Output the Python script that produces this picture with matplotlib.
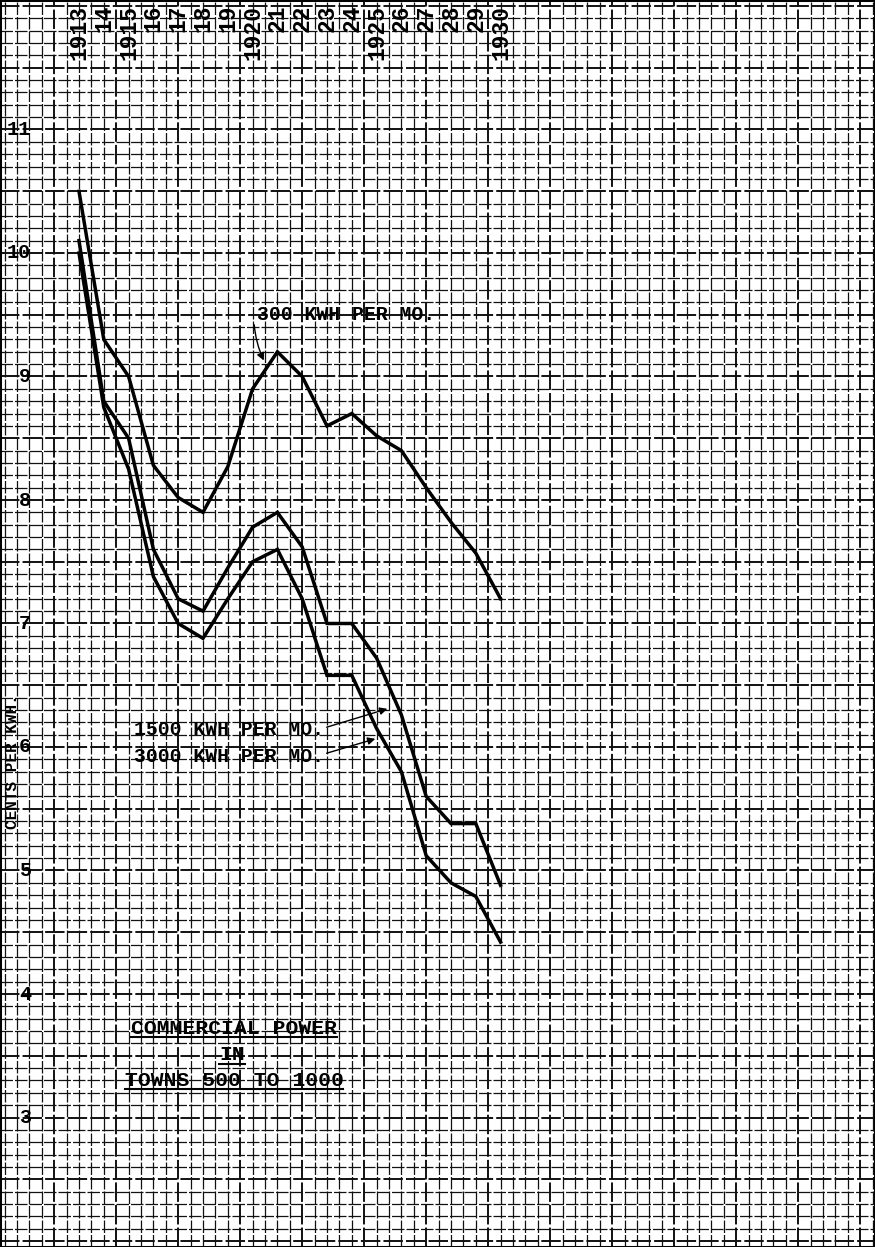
import numpy as np
import matplotlib
matplotlib.use("Agg")
import matplotlib.pyplot as plt
from matplotlib.lines import Line2D

#data (cents per kwh)
years      = list(range(1913, 1931))
kwh300     = [10.5, 9.3, 9.0, 8.28, 8.02, 7.9, 8.27, 8.9, 9.2, 9.0, 8.6, 8.7, 8.52, 8.4, 8.1, 7.82, 7.57, 7.2]
kwh1500    = [10.1, 8.8, 8.5, 7.6, 7.2, 7.1, 7.45, 7.78, 7.9, 7.62, 7.0, 7.0, 6.72, 6.26, 5.6, 5.38, 5.38, 4.88]
kwh3000    = [10.0, 8.75, 8.25, 7.38, 7.0, 6.88, 7.2, 7.5, 7.6, 7.2, 6.58, 6.58, 6.15, 5.8, 5.12, 4.9, 4.79, 4.42]
year_lbls  = ["1913", "14", "1915", "16", "17", "18", "19", "1920", "21", "22",
              "23", "24", "1925", "26", "27", "28", "29", "1930"]
yticks     = [3, 4, 5, 6, 7, 8, 9, 10, 11]

FONT = "Liberation Mono"
W, H = 875, 1247
PX_YEAR, PX_UNIT = 24.8, 123.5

#creation of the figure, axes fill whole page like graph paper
fig = plt.figure(figsize=(W / 100, H / 100), dpi=100)
ax  = fig.add_axes([0, 0, 1, 1])
ax.set_xlim(1913 - 79 / PX_YEAR, 1913 + (W - 79) / PX_YEAR)
ax.set_ylim(10 - (H - 253) / PX_UNIT, 10 + 253 / PX_UNIT)
ax.set_xticks([]); ax.set_yticks([])
for s in ax.spines.values():
    s.set_linewidth(2.2)

#graph paper grid
x0, x1 = ax.get_xlim()
y0, y1 = ax.get_ylim()
for i, gx in enumerate(np.arange(1909.5, x1, 0.5)):
    ax.axvline(gx, color="#111111", lw=1.4 if i % 5 == 0 else 0.9, ls=(0, (10, 1.6)), zorder=1)
for i, gy in enumerate(np.arange(2.0, y1, 0.1)):
    ax.axhline(gy, color="#111111", lw=1.4 if i % 5 == 0 else 0.9, ls=(0, (10, 1.6)), zorder=1)

#curves
for series in (kwh300, kwh1500, kwh3000):
    ax.plot(years, series, color="black", lw=2.5, solid_joinstyle="miter", zorder=3)

#year labels along the top
for yr, lab in zip(years, year_lbls):
    ax.text(yr, 1 - 5 / H, lab, rotation=90, ha="center", va="top",
            transform=ax.get_xaxis_transform(), family=FONT, fontsize=16.5,
            fontweight="bold", zorder=4)

#value labels on the left
for v in yticks:
    ax.text(31 / W, v, str(v), ha="right", va="center", transform=ax.get_yaxis_transform(),
            family=FONT, fontsize=14.5, fontweight="bold", zorder=4)
ax.text(13 / W, 5.88, "CENTS PER KWH.", rotation=90, ha="center", va="center",
        transform=ax.get_yaxis_transform(), family=FONT, fontsize=11.5, fontweight="bold",
        zorder=4)

def px(x, y):
    """pixel position -> data coords"""
    return (1913 + (x - 79) / PX_YEAR, 10 - (y - 253) / PX_UNIT)

txt = dict(family=FONT, fontsize=14.2, fontweight="bold", va="center", zorder=4)
ax.text(*px(257, 315), "300 KWH PER MO.", ha="left", **txt)
ax.text(*px(134, 730), "1500 KWH PER MO.", ha="left", **txt)
ax.text(*px(134, 757), "3000 KWH PER MO.", ha="left", **txt)

arrow = dict(arrowstyle="-|>", lw=1.0, color="black", mutation_scale=11)
ax.annotate("", xy=px(265, 363), xytext=px(254, 322),
            arrowprops=dict(connectionstyle="arc3,rad=0.1", **arrow), zorder=5)
ax.annotate("", xy=px(390, 708), xytext=px(324, 728),
            arrowprops=dict(connectionstyle="arc3,rad=0.0", **arrow), zorder=5)
ax.annotate("", xy=px(378, 738), xytext=px(324, 754),
            arrowprops=dict(connectionstyle="arc3,rad=0.0", **arrow), zorder=5)

#title block, underlined
tt = dict(txt, fontsize=15.4)
title = [ax.text(*px(234, 1028), "COMMERCIAL POWER", ha="center", **tt),
         ax.text(*px(232, 1055), "IN", ha="center", **tt),
         ax.text(*px(234, 1080), "TOWNS 500 TO 1000", ha="center", **tt)]
fig.canvas.draw()
rend = fig.canvas.get_renderer()
for t in title:
    bb = t.get_window_extent(rend)
    yy = (bb.y0 + 1) / H
    fig.add_artist(Line2D([bb.x0 / W, bb.x1 / W], [yy, yy], color="black", lw=1.5, zorder=6))

#save figure
plt.savefig("out.png", dpi=100)
